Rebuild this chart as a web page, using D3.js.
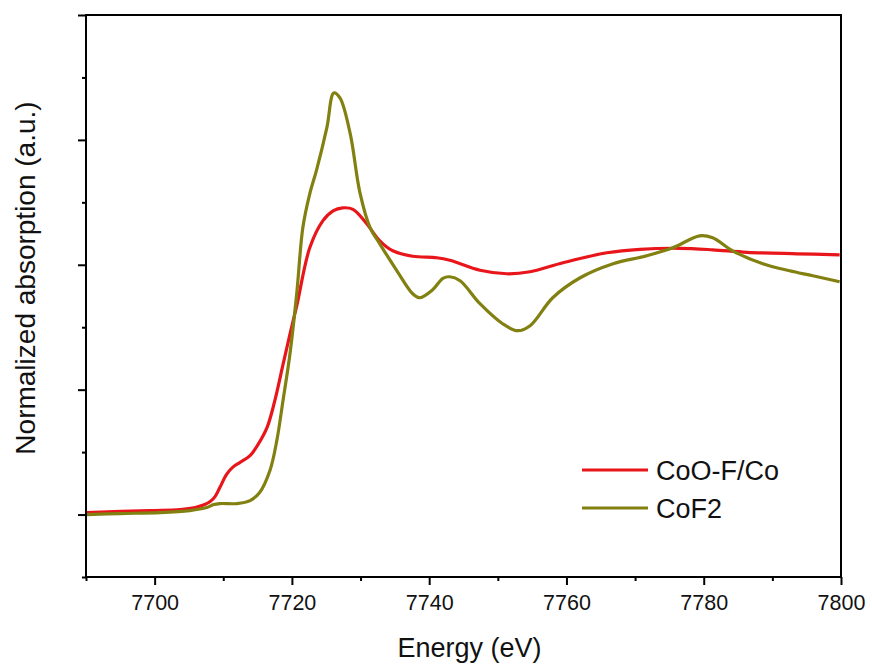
<!DOCTYPE html>
<html><head><meta charset="utf-8">
<script src="https://cdn.jsdelivr.net/npm/d3@7"></script>
<style>body{margin:0;background:#fff;} svg{display:block;font-family:"Liberation Sans",Arial,sans-serif;}</style>
</head><body>
<svg id="chart" width="872" height="668"></svg>
<script>
// Data
const seriesNames = ["CoO-F/Co", "CoF2"];
const seriesColors = ["#e8161b", "#818010"];
const energyCoOF = [7690.1,7699.3,7703.7,7705.9,7707.3,7708.1,7708.8,7709.5,7710.5,7711.4,7712.4,7713.9,7715.1,7716.4,7717.5,7718.7,7719.7,7720.7,7722.6,7724.5,7726.0,7727.4,7728.9,7730.9,7732.8,7734.7,7737.6,7741.1,7743.0,7747.4,7751.3,7754.7,7759.5,7765.9,7770.7,7776.5,7781.3,7786.3,7793.6,7799.8];
const absCoOF = [0.008,0.016,0.02,0.028,0.04,0.052,0.072,0.108,0.162,0.19,0.208,0.236,0.282,0.35,0.455,0.60,0.72,0.835,1.068,1.176,1.216,1.228,1.222,1.164,1.096,1.056,1.034,1.028,1.018,0.978,0.964,0.972,1.008,1.048,1.062,1.066,1.06,1.05,1.044,1.04];
const energyCoF2 = [7690.1,7695.0,7700.8,7705.1,7707.6,7708.6,7709.5,7712.0,7713.9,7715.3,7716.8,7717.8,7718.7,7719.7,7720.7,7721.6,7722.6,7723.6,7725.1,7726.1,7727.0,7728.5,7729.9,7731.4,7732.8,7735.3,7737.6,7738.6,7740.5,7742.0,7743.0,7744.5,7747.4,7750.7,7752.9,7754.7,7758.0,7762.0,7766.8,7771.7,7775.5,7779.4,7781.3,7784.2,7788.6,7792.5,7795.9,7799.8];
const absCoF2 = [0,0.004,0.008,0.016,0.028,0.04,0.044,0.044,0.056,0.088,0.176,0.296,0.456,0.64,0.884,1.15,1.284,1.38,1.55,1.688,1.668,1.524,1.29,1.148,1.084,0.976,0.884,0.868,0.9,0.946,0.952,0.936,0.844,0.764,0.736,0.756,0.868,0.948,1.004,1.036,1.068,1.116,1.108,1.056,1.004,0.976,0.956,0.932];
const xTickValues = [7700,7720,7740,7760,7780,7800];
const xMinorTicks = [7690,7710,7730,7750,7770,7790];
const yMajorTicks = [0,0.5,1.0,1.5,2.0];
const yMinorTicks = [-0.25,0.25,0.75,1.25,1.75];
const xTitle = "Energy (eV)";
const yTitle = "Normalized absorption (a.u.)";

const svg = d3.select("#chart");
const L = 86, R = 841, T = 15, B = 577;
const x = d3.scaleLinear().domain([7690, 7800]).range([L, R]);
const y = d3.scaleLinear().domain([-0.25, 2.0]).range([B, T]);

// axes
const gx = svg.append("g").attr("transform", `translate(0,${B})`);
gx.call(d3.axisBottom(x).tickValues(xTickValues).tickSize(8).tickPadding(10).tickFormat(d3.format("d")));
const gxm = svg.append("g").attr("transform", `translate(0,${B})`);
gxm.call(d3.axisBottom(x).tickValues(xMinorTicks).tickSize(4).tickFormat(""));
const gy = svg.append("g").attr("transform", `translate(${L},0)`);
gy.call(d3.axisLeft(y).tickValues(yMajorTicks).tickSize(8).tickFormat(""));
const gym = svg.append("g").attr("transform", `translate(${L},0)`);
gym.call(d3.axisLeft(y).tickValues(yMinorTicks).tickSize(4).tickFormat(""));
[gx,gxm,gy,gym].forEach(g => {
  g.select(".domain").remove();
  g.selectAll(".tick line").attr("stroke","#000").attr("stroke-width",2);
  g.selectAll(".tick text").attr("fill","#111").style("font-size","21.5px").style("font-family","'Liberation Sans',Arial,sans-serif");
});

// line data
const line = d3.line().x(d => x(d[0])).y(d => y(d[1])).curve(d3.curveCatmullRom.alpha(0.5));
const dataCoOF = energyCoOF.map((e,i) => [e, absCoOF[i]]);
const dataCoF2 = energyCoF2.map((e,i) => [e, absCoF2[i]]);
svg.append("defs").append("clipPath").attr("id","clip").append("rect").attr("x",L).attr("y",T).attr("width",R-L).attr("height",B-T);
const plot = svg.append("g").attr("clip-path","url(#clip)");
plot.append("path").datum(dataCoOF).attr("d", line).attr("fill","none").attr("stroke",seriesColors[0]).attr("stroke-width",3.2).attr("stroke-linejoin","round");
plot.append("path").datum(dataCoF2).attr("d", line).attr("fill","none").attr("stroke",seriesColors[1]).attr("stroke-width",3.2).attr("stroke-linejoin","round");

// frame
svg.append("rect").attr("x",L).attr("y",T).attr("width",R-L).attr("height",B-T).attr("fill","none").attr("stroke","#000").attr("stroke-width",2);

// titles
svg.append("text").attr("x",(L+R)/2 + 6).attr("y",657).attr("text-anchor","middle").style("font-size","27px").attr("fill","#111").text(xTitle);
svg.append("text").attr("transform","translate(35,278) rotate(-90)").attr("text-anchor","middle").style("font-size","28px").attr("fill","#111").text(yTitle);

// legend
const leg = svg.append("g");
seriesNames.forEach((n,i) => {
  const yy = 470 + i*38;
  leg.append("line").attr("x1",582).attr("x2",648).attr("y1",yy).attr("y2",yy).attr("stroke",seriesColors[i]).attr("stroke-width",3.2);
  leg.append("text").attr("x",656).attr("y",yy+10).style("font-size","27px").attr("fill","#111").text(n);
});
</script>
</body></html>
